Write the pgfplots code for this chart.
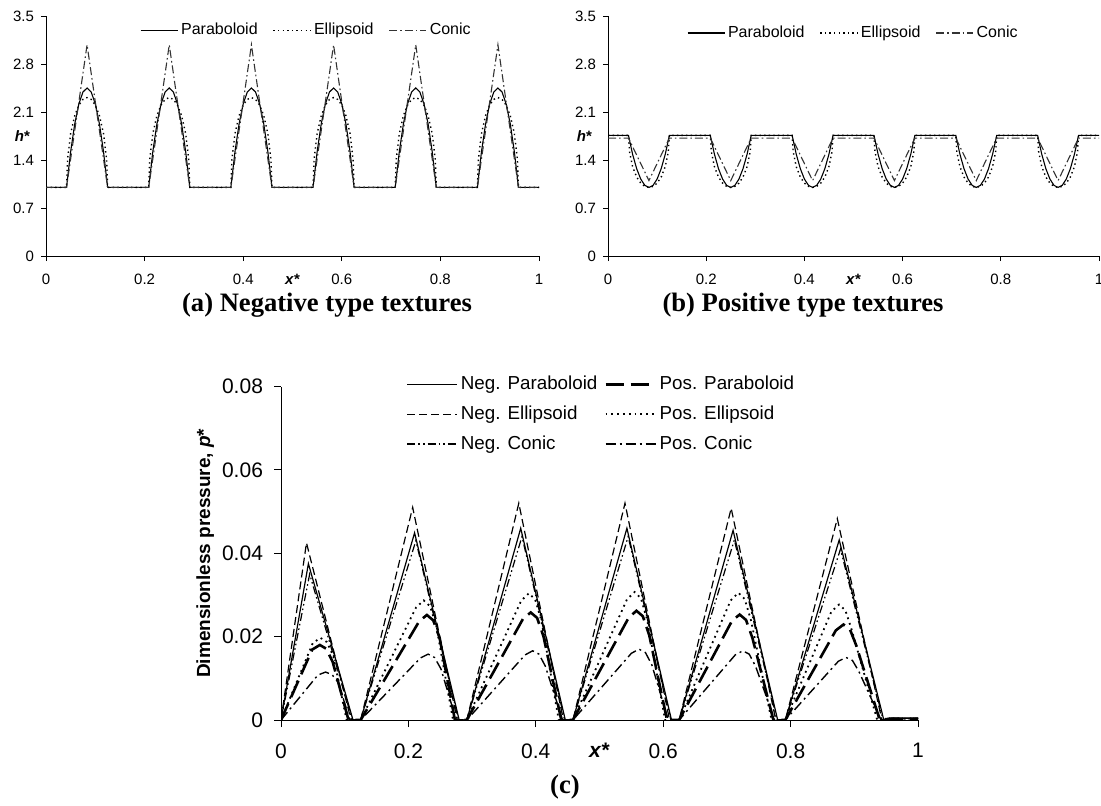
\documentclass[border=0pt]{standalone}
\usepackage{fontspec}
\setmainfont{Liberation Sans}
\newfontfamily\capfont{Liberation Serif}
\usepackage{pgfplots}
\pgfplotsset{compat=1.18}
\begin{document}
\begin{tikzpicture}
\path[use as bounding box] (0,0) rectangle (550.5pt,402.5pt);
\pgfplotsset{
  hplot/.style={
    scale only axis, height=120pt,
    xmin=0, xmax=1, ymin=0, ymax=3.5,
    axis lines*=left, tick align=outside, major tick length=2.5pt,
    xtick={0,0.2,0.4,0.6,0.8,1}, ytick={0,0.7,1.4,2.1,2.8,3.5},
    tick style={black,line width=0.4pt}, axis line style={line width=0.5pt},
    scaled ticks=false,
    /pgf/number format/assume math mode=true,
    xticklabel style={/pgf/number format/fixed, yshift=-3pt},
    yticklabel style={/pgf/number format/fixed, /pgf/number format/precision=1},
    tick label style={font=\fontsize{7.5}{9}\selectfont},
    xlabel={\textbf{\textit{x}*}}, ylabel={\textbf{\textit{h}*}},
    every axis x label/.style={at={(axis description cs:0.5,0)}, anchor=north, yshift=-5.5pt, font=\fontsize{7.5}{9}\selectfont},
    every axis y label/.style={at={(axis description cs:0,0.5)}, anchor=east, xshift=-4.5pt, font=\fontsize{7.5}{9}\selectfont},
    legend columns=3,
    legend style={draw=none, fill=none, inner sep=0pt, font=\fontsize{8}{9.6}\selectfont, anchor=west,
      nodes={inner ysep=0.8pt, inner xsep=1.5pt}, /tikz/every even column/.append style={column sep=6pt}},
    legend image code/.code={\draw[##1] (0pt,0pt) -- (18.5pt,0pt);},
  },
  par/.style={black, line width=0.55pt},
  ell/.style={black, line width=0.7pt, dash pattern=on 0.7pt off 1.6pt},
  con/.style={black!80, line width=0.55pt, dash pattern=on 4pt off 1.5pt on 0.8pt off 1.5pt},
}

% (a) negative textures
\begin{axis}[hplot, width=246.5pt, at={(23pt,274.5pt)}, anchor=south west,
  legend style={at={(axis description cs:0.19,0.94)}}]
\addplot[par] coordinates {(0,1)
 (0.04167,1) (0.05,1.522) (0.05833,1.928) (0.06667,2.218) (0.075,2.392) (0.08333,2.45) (0.09167,2.392) (0.1,2.218) (0.10833,1.928) (0.11667,1.522) (0.125,1)
 (0.20833,1) (0.21667,1.522) (0.225,1.928) (0.23333,2.218) (0.24167,2.392) (0.25,2.45) (0.25833,2.392) (0.26667,2.218) (0.275,1.928) (0.28333,1.522) (0.29167,1)
 (0.375,1) (0.38333,1.522) (0.39167,1.928) (0.4,2.218) (0.40833,2.392) (0.41667,2.45) (0.425,2.392) (0.43333,2.218) (0.44167,1.928) (0.45,1.522) (0.45833,1)
 (0.54167,1) (0.55,1.522) (0.55833,1.928) (0.56667,2.218) (0.575,2.392) (0.58333,2.45) (0.59167,2.392) (0.6,2.218) (0.60833,1.928) (0.61667,1.522) (0.625,1)
 (0.70833,1) (0.71667,1.522) (0.725,1.928) (0.73333,2.218) (0.74167,2.392) (0.75,2.45) (0.75833,2.392) (0.76667,2.218) (0.775,1.928) (0.78333,1.522) (0.79167,1)
 (0.875,1) (0.88333,1.522) (0.89167,1.928) (0.9,2.218) (0.90833,2.392) (0.91667,2.45) (0.925,2.392) (0.93333,2.218) (0.94167,1.928) (0.95,1.522) (0.95833,1) (1,1)};
\addplot[ell] coordinates {(0,1)
 (0.04167,1) (0.04375,1.409) (0.05,1.786) (0.05833,2.048) (0.06667,2.201) (0.075,2.284) (0.08333,2.31) (0.09167,2.284) (0.1,2.201) (0.10833,2.048) (0.11667,1.786) (0.12292,1.409) (0.125,1)
 (0.20833,1) (0.21042,1.409) (0.21667,1.786) (0.225,2.048) (0.23333,2.201) (0.24167,2.284) (0.25,2.31) (0.25833,2.284) (0.26667,2.201) (0.275,2.048) (0.28333,1.786) (0.28958,1.409) (0.29167,1)
 (0.375,1) (0.37708,1.409) (0.38333,1.786) (0.39167,2.048) (0.4,2.201) (0.40833,2.284) (0.41667,2.31) (0.425,2.284) (0.43333,2.201) (0.44167,2.048) (0.45,1.786) (0.45625,1.409) (0.45833,1)
 (0.54167,1) (0.54375,1.409) (0.55,1.786) (0.55833,2.048) (0.56667,2.201) (0.575,2.284) (0.58333,2.31) (0.59167,2.284) (0.6,2.201) (0.60833,2.048) (0.61667,1.786) (0.62292,1.409) (0.625,1)
 (0.70833,1) (0.71042,1.409) (0.71667,1.786) (0.725,2.048) (0.73333,2.201) (0.74167,2.284) (0.75,2.31) (0.75833,2.284) (0.76667,2.201) (0.775,2.048) (0.78333,1.786) (0.78958,1.409) (0.79167,1)
 (0.875,1) (0.87708,1.409) (0.88333,1.786) (0.89167,2.048) (0.9,2.201) (0.90833,2.284) (0.91667,2.31) (0.925,2.284) (0.93333,2.201) (0.94167,2.048) (0.95,1.786) (0.95625,1.409) (0.95833,1) (1,1)};
\addplot[con] coordinates {(0,1) (0.04167,1) (0.08333,3.08) (0.125,1) (0.20833,1) (0.25,3.08) (0.29167,1)
 (0.375,1) (0.41667,3.08) (0.45833,1) (0.54167,1) (0.58333,3.08) (0.625,1) (0.70833,1) (0.75,3.08) (0.79167,1)
 (0.875,1) (0.91667,3.08) (0.95833,1) (1,1)};
\legend{Paraboloid, Ellipsoid, Conic}
\end{axis}

% (b) positive textures
\begin{axis}[hplot, width=245.5pt, at={(304pt,274.5pt)}, anchor=south west,
  legend style={at={(axis description cs:0.16,0.929)}}]
\addplot[par] coordinates {(0,1.76)
 (0.04167,1.76) (0.05,1.486) (0.05833,1.274) (0.06667,1.122) (0.075,1.03) (0.08333,1) (0.09167,1.03) (0.1,1.122) (0.10833,1.274) (0.11667,1.486) (0.125,1.76)
 (0.20833,1.76) (0.21667,1.486) (0.225,1.274) (0.23333,1.122) (0.24167,1.03) (0.25,1) (0.25833,1.03) (0.26667,1.122) (0.275,1.274) (0.28333,1.486) (0.29167,1.76)
 (0.375,1.76) (0.38333,1.486) (0.39167,1.274) (0.4,1.122) (0.40833,1.03) (0.41667,1) (0.425,1.03) (0.43333,1.122) (0.44167,1.274) (0.45,1.486) (0.45833,1.76)
 (0.54167,1.76) (0.55,1.486) (0.55833,1.274) (0.56667,1.122) (0.575,1.03) (0.58333,1) (0.59167,1.03) (0.6,1.122) (0.60833,1.274) (0.61667,1.486) (0.625,1.76)
 (0.70833,1.76) (0.71667,1.486) (0.725,1.274) (0.73333,1.122) (0.74167,1.03) (0.75,1) (0.75833,1.03) (0.76667,1.122) (0.775,1.274) (0.78333,1.486) (0.79167,1.76)
 (0.875,1.76) (0.88333,1.486) (0.89167,1.274) (0.9,1.122) (0.90833,1.03) (0.91667,1) (0.925,1.03) (0.93333,1.122) (0.94167,1.274) (0.95,1.486) (0.95833,1.76) (1,1.76)};
\addplot[ell] coordinates {(0,1.76)
 (0.04167,1.76) (0.04375,1.523) (0.05,1.304) (0.05833,1.152) (0.06667,1.063) (0.075,1.015) (0.08333,1) (0.09167,1.015) (0.1,1.063) (0.10833,1.152) (0.11667,1.304) (0.12292,1.523) (0.125,1.76)
 (0.20833,1.76) (0.21042,1.523) (0.21667,1.304) (0.225,1.152) (0.23333,1.063) (0.24167,1.015) (0.25,1) (0.25833,1.015) (0.26667,1.063) (0.275,1.152) (0.28333,1.304) (0.28958,1.523) (0.29167,1.76)
 (0.375,1.76) (0.37708,1.523) (0.38333,1.304) (0.39167,1.152) (0.4,1.063) (0.40833,1.015) (0.41667,1) (0.425,1.015) (0.43333,1.063) (0.44167,1.152) (0.45,1.304) (0.45625,1.523) (0.45833,1.76)
 (0.54167,1.76) (0.54375,1.523) (0.55,1.304) (0.55833,1.152) (0.56667,1.063) (0.575,1.015) (0.58333,1) (0.59167,1.015) (0.6,1.063) (0.60833,1.152) (0.61667,1.304) (0.62292,1.523) (0.625,1.76)
 (0.70833,1.76) (0.71042,1.523) (0.71667,1.304) (0.725,1.152) (0.73333,1.063) (0.74167,1.015) (0.75,1) (0.75833,1.015) (0.76667,1.063) (0.775,1.152) (0.78333,1.304) (0.78958,1.523) (0.79167,1.76)
 (0.875,1.76) (0.87708,1.523) (0.88333,1.304) (0.89167,1.152) (0.9,1.063) (0.90833,1.015) (0.91667,1) (0.925,1.015) (0.93333,1.063) (0.94167,1.152) (0.95,1.304) (0.95625,1.523) (0.95833,1.76) (1,1.76)};
\addplot[con] coordinates {(0,1.72) (0.04167,1.72) (0.08333,1.1) (0.125,1.72) (0.20833,1.72) (0.25,1.1) (0.29167,1.72)
 (0.375,1.72) (0.41667,1.1) (0.45833,1.72) (0.54167,1.72) (0.58333,1.1) (0.625,1.72) (0.70833,1.72) (0.75,1.1) (0.79167,1.72)
 (0.875,1.72) (0.91667,1.1) (0.95833,1.72) (1,1.72)};
\legend{Paraboloid, Ellipsoid, Conic}
\end{axis}

% (c) pressure
\begin{axis}[scale only axis, width=318.5pt, height=166.75pt, at={(140.5pt,42.5pt)}, anchor=south west,
  xmin=0, xmax=1, ymin=0, ymax=0.08,
  axis lines*=left, tick align=outside, major tick length=3.5pt,
  xtick={0,0.2,0.4,0.6,0.8,1}, ytick={0,0.02,0.04,0.06,0.08},
  tick style={black,line width=0.4pt}, axis line style={line width=0.5pt},
  scaled ticks=false,
  /pgf/number format/assume math mode=true,
  xticklabel style={/pgf/number format/fixed, yshift=-4.7pt},
  yticklabel style={/pgf/number format/fixed, /pgf/number format/precision=2, xshift=-2pt},
  tick label style={font=\fontsize{10.5}{12}\selectfont},
  xlabel={\textbf{\textit{x}*}}, ylabel={\textbf{Dimensionless pressure, \textit{p}*}},
  every axis x label/.style={at={(axis description cs:0.5,0)}, anchor=north, yshift=-8.2pt, font=\fontsize{10.5}{12}\selectfont},
  every axis y label/.style={at={(axis description cs:-0.119,0.5)}, rotate=90, anchor=center, font=\fontsize{9.5}{11}\selectfont},
  legend columns=2, legend cell align=left,
  legend style={draw=none, fill=none, inner sep=0pt, font=\fontsize{9.4}{11}\selectfont,
    at={(axis description cs:0.197,1.0387)}, anchor=north west, row sep=4.6pt,
    nodes={inner ysep=1pt, inner xsep=1.4pt}, /tikz/every even column/.append style={column sep=2pt}},
  legend image code/.code={\draw[#1] (0pt,0pt) -- (25pt,0pt);},
]
% Neg. Paraboloid
\addplot[black, line width=0.6pt] coordinates {(0,0) (0.043,0.0375) (0.113,0) (0.125,0) (0.2097,0.0449) (0.2797,0) (0.2917,0)
 (0.3763,0.046) (0.4463,0) (0.4583,0) (0.543,0.046) (0.613,0) (0.625,0) (0.7097,0.0455) (0.7797,0) (0.7917,0)
 (0.8763,0.0432) (0.9463,0) (0.955,0.0004) (1,0.0004)};
% Pos. Paraboloid
\addplot[black, line width=1.3pt, dash pattern=on 9pt off 3.5pt] coordinates {(0,0) (0.049,0.0169) (0.061,0.018) (0.071,0.0171) (0.081,0.014) (0.106,0)
 (0.125,0) (0.217,0.0237) (0.229,0.0252) (0.239,0.0239) (0.249,0.0197) (0.273,0)
 (0.2917,0) (0.38,0.0243) (0.392,0.0258) (0.402,0.0245) (0.412,0.0201) (0.44,0)
 (0.4583,0) (0.546,0.0246) (0.558,0.0262) (0.568,0.0249) (0.578,0.0204) (0.606,0)
 (0.625,0) (0.708,0.0238) (0.72,0.0253) (0.73,0.024) (0.74,0.0197) (0.773,0)
 (0.7917,0) (0.871,0.0215) (0.883,0.0229) (0.893,0.0218) (0.903,0.0179) (0.94,0) (0.955,0.0003) (1,0.0003)};
% Neg. Ellipsoid
\addplot[black, line width=0.6pt, dash pattern=on 4pt off 2pt] coordinates {(0,0) (0.04,0.0425) (0.11,0) (0.125,0) (0.2067,0.051) (0.2767,0) (0.2917,0)
 (0.3733,0.052) (0.4433,0) (0.4583,0) (0.54,0.052) (0.61,0) (0.625,0) (0.7067,0.0508) (0.7767,0) (0.7917,0)
 (0.8733,0.0483) (0.9433,0) (0.955,0.0004) (1,0.0004)};
% Pos. Ellipsoid
\addplot[black, line width=0.9pt, dash pattern=on 0.9pt off 2pt] coordinates {(0,0) (0.05,0.0185) (0.062,0.0197) (0.072,0.0187) (0.082,0.0154) (0.103,0)
 (0.125,0) (0.212,0.027) (0.224,0.0287) (0.234,0.0273) (0.244,0.0224) (0.27,0)
 (0.2917,0) (0.377,0.0286) (0.389,0.0304) (0.399,0.0289) (0.409,0.0237) (0.436,0)
 (0.4583,0) (0.543,0.0289) (0.555,0.0307) (0.565,0.0292) (0.575,0.0239) (0.603,0)
 (0.625,0) (0.706,0.0287) (0.718,0.0305) (0.728,0.029) (0.738,0.0238) (0.77,0)
 (0.7917,0) (0.864,0.026) (0.876,0.0277) (0.886,0.0263) (0.896,0.0216) (0.936,0) (0.955,0.0003) (1,0.0003)};
% Neg. Conic
\addplot[black, line width=0.6pt, dash pattern=on 4pt off 1.5pt on 0.8pt off 1.5pt on 0.8pt off 1.5pt] coordinates {(0,0) (0.045,0.035) (0.112,0) (0.125,0) (0.2117,0.043) (0.2787,0) (0.2917,0)
 (0.3783,0.044) (0.4453,0) (0.4583,0) (0.545,0.044) (0.612,0) (0.625,0) (0.7117,0.0432) (0.7787,0) (0.7917,0)
 (0.8783,0.041) (0.9453,0) (0.955,0.0004) (1,0.0004)};
% Pos. Conic
\addplot[black, line width=0.7pt, dash pattern=on 5pt off 2pt on 1pt off 2pt] coordinates {(0,0) (0.058,0.0108) (0.07,0.0115) (0.08,0.0109) (0.09,0.009) (0.108,0)
 (0.125,0) (0.219,0.0149) (0.231,0.0158) (0.241,0.015) (0.251,0.0123) (0.275,0)
 (0.2917,0) (0.383,0.0156) (0.395,0.0166) (0.405,0.0158) (0.415,0.0129) (0.442,0)
 (0.4583,0) (0.55,0.016) (0.562,0.017) (0.572,0.0162) (0.582,0.0133) (0.608,0)
 (0.625,0) (0.713,0.0156) (0.725,0.0166) (0.735,0.0158) (0.745,0.0129) (0.775,0)
 (0.7917,0) (0.875,0.0141) (0.887,0.015) (0.897,0.0143) (0.907,0.0117) (0.942,0) (0.955,0.0003) (1,0.0003)};
\legend{Neg. Paraboloid, Pos. Paraboloid, Neg. Ellipsoid, Pos. Ellipsoid, Neg. Conic, Pos. Conic}
\end{axis}

\node[font=\capfont\bfseries\fontsize{13.3}{16}\selectfont] at (163.5pt,250pt) {(a) Negative type textures};
\node[font=\capfont\bfseries\fontsize{13.3}{16}\selectfont] at (401.5pt,250pt) {(b) Positive type textures};
\node[font=\capfont\bfseries\fontsize{13.3}{16}\selectfont] at (282.5pt,9pt) {(c)};
\end{tikzpicture}
\end{document}
